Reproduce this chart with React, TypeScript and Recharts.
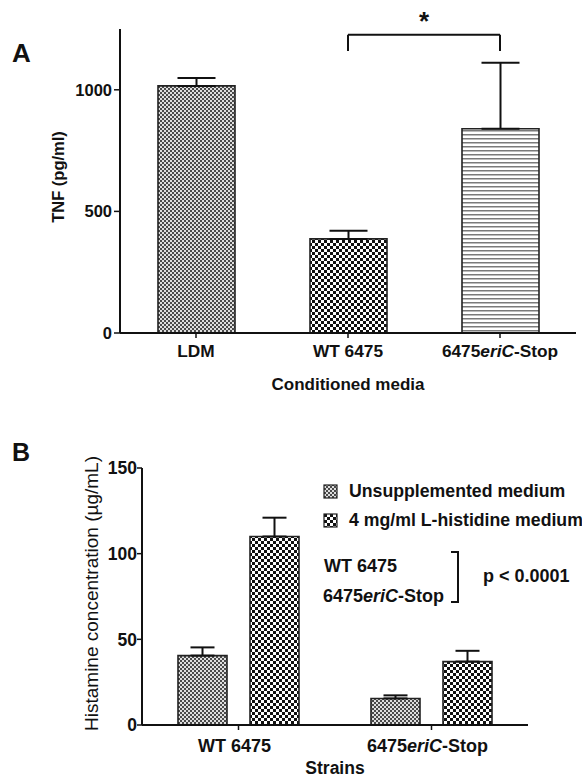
import React from 'react';
import { BarChart, Bar, XAxis, YAxis, ErrorBar, ReferenceLine, Cell } from 'recharts';

// panel A: TNF by conditioned media
const mediaCategories = ['LDM', 'WT 6475', '6475eriC-Stop'];
const tnfValues = [1016, 387, 840];
const tnfErrors = [33, 33, 271];
const tnfTicks = [0, 500, 1000];

// panel B: histamine by strain
const strainCategories = ['WT 6475', '6475eriC-Stop'];
const unsuppValues = [40.5, 15.5];
const unsuppErrors = [4.8, 1.8];
const histValues = [110, 37];
const histErrors = [11, 6.3];
const histamineTicks = [0, 50, 100, 150];
const histamineSeries = [
  { key: 'unsupp', name: 'Unsupplemented medium', fill: 'url(#fineGray)' },
  { key: 'hist', name: '4 mg/ml L-histidine medium', fill: 'url(#coarseCheck)' },
];

const FONT = '"Liberation Sans", Arial, Helvetica, sans-serif';
const mediaFills = ['url(#fineGray)', 'url(#coarseCheck)', 'url(#hLines)'];

const tnfData = mediaCategories.map((name, i) => ({
  name,
  tnf: tnfValues[i],
  tnfErr: [0, tnfErrors[i]],
}));

const histamineData = strainCategories.map((name, i) => ({
  name,
  unsupp: unsuppValues[i],
  unsuppErr: [0, unsuppErrors[i]],
  hist: histValues[i],
  histErr: [0, histErrors[i]],
}));

// "6475eriC-Stop" -> gene name in italics
const StrainName = ({ text }: { text: string }) => {
  const m = text.match(/^(\d+)(eriC)(.*)$/);
  if (!m) return <>{text}</>;
  return (
    <>
      <tspan>{m[1]}</tspan>
      <tspan fontStyle="italic">{m[2]}</tspan>
      <tspan>{m[3]}</tspan>
    </>
  );
};

const makeTick = (fontSize: number, drop: number, shift = 0) => (props: any) => {
  const { x, y, payload } = props;
  return (
    <text x={x + shift} y={y + drop} textAnchor="middle" fontFamily={FONT} fontWeight="bold" fontSize={fontSize} fill="#111">
      <StrainName text={String(payload.value)} />
    </text>
  );
};

const makeXTitle = (value: string, fontSize: number, drop: number) => (props: any) => {
  const { viewBox } = props;
  return (
    <text
      x={viewBox.x + viewBox.width / 2}
      y={viewBox.y + drop}
      textAnchor="middle"
      fontFamily={FONT}
      fontWeight="bold"
      fontSize={fontSize}
      fill="#111"
    >
      {value}
    </text>
  );
};

const makeYTitle = (value: string, fontSize: number, cx: number, shift: number, weight: string) => (props: any) => {
  const { viewBox } = props;
  const cy = viewBox.y + viewBox.height / 2 + shift;
  return (
    <text
      x={cx}
      y={cy}
      transform={`rotate(-90, ${cx}, ${cy})`}
      textAnchor="middle"
      dominantBaseline="central"
      fontFamily={FONT}
      fontWeight={weight}
      fontSize={fontSize}
      fill="#111"
    >
      {value}
    </text>
  );
};

const Star = (props: any) => {
  const { viewBox } = props;
  return (
    <text x={viewBox.x + viewBox.width / 2} y={viewBox.y - 5} textAnchor="middle" fontFamily={FONT} fontWeight="bold" fontSize={26} fill="#111">
      *
    </text>
  );
};

// legend + significance note of panel B, drawn beside the chart
const HistamineLegend = () => (
  <svg width={264} height={130} style={{ position: 'absolute', left: 318, top: 478, overflow: 'hidden' }}>
    {histamineSeries.map((s, i) => (
      <g key={s.key}>
        <rect x={6} y={7 + i * 29} width={13} height={13} fill={s.fill} stroke="#222" strokeWidth={1.2} />
        <text x={31} y={19 + i * 29} fontFamily={FONT} fontWeight="bold" fontSize={17.7} fill="#111">
          {s.name}
        </text>
      </g>
    ))}
    <text x={6} y={94} fontFamily={FONT} fontWeight="bold" fontSize={18} fill="#111">
      {strainCategories[0]}
    </text>
    <text x={5} y={124} fontFamily={FONT} fontWeight="bold" fontSize={18} fill="#111">
      <StrainName text={strainCategories[1]} />
    </text>
    <path d="M133 74 H140 V124 H133" fill="none" stroke="#111" strokeWidth={2} />
    <text x={165} y={104} fontFamily={FONT} fontWeight="bold" fontSize={18} fill="#111">
      p &lt; 0.0001
    </text>
  </svg>
);

const axisLine = { stroke: '#111', strokeWidth: 2 };
const tickLine = { stroke: '#111', strokeWidth: 1.5 };
const yTick = { fontFamily: FONT, fontWeight: 'bold', fill: '#111' };

export default function App() {
  return (
    <div style={{ position: 'absolute', left: 0, top: 0, width: 582, height: 777, background: '#fff', fontFamily: FONT }}>
      <svg width={0} height={0} style={{ position: 'absolute' }}>
        <defs>
          <pattern id="fineGray" width={4} height={4} patternUnits="userSpaceOnUse">
            <rect width={4} height={4} fill="#dedede" />
            <rect width={2} height={2} fill="#4a4a4a" />
            <rect x={2} y={2} width={2} height={2} fill="#4a4a4a" />
          </pattern>
          <pattern id="coarseCheck" width={6} height={6} patternUnits="userSpaceOnUse">
            <rect width={6} height={6} fill="#ffffff" />
            <rect width={3} height={3} fill="#111" />
            <rect x={3} y={3} width={3} height={3} fill="#111" />
          </pattern>
          <pattern id="hLines" width={4} height={4} patternUnits="userSpaceOnUse">
            <rect width={4} height={4} fill="#ffffff" />
            <rect y={2} width={4} height={1.5} fill="#7a7a7a" />
          </pattern>
        </defs>
      </svg>

      <div style={{ position: 'absolute', left: 12, top: 40, fontSize: 26, fontWeight: 'bold', lineHeight: '26px', color: '#111' }}>A</div>
      <div style={{ position: 'absolute', left: 12, top: 440, fontSize: 25, fontWeight: 'bold', lineHeight: '25px', color: '#111' }}>B</div>

      <div style={{ position: 'absolute', left: 0, top: 0 }}>
        <BarChart width={582} height={400} data={tnfData} margin={{ top: 29, right: 6, bottom: 0, left: 0 }} barSize={77}>
          <XAxis
            dataKey="name"
            height={67}
            axisLine={axisLine}
            tickLine={tickLine}
            tickSize={5}
            tickMargin={2}
            tick={makeTick(17.3, 17)}
            label={{ content: makeXTitle('Conditioned media', 17, 57) }}
          />
          <YAxis
            width={120}
            domain={[0, 1250]}
            ticks={tnfTicks}
            axisLine={axisLine}
            tickLine={tickLine}
            tickSize={6}
            tickMargin={2}
            tick={{ ...yTick, fontSize: 16.5 }}
            label={{ content: makeYTitle('TNF (pg/ml)', 16.5, 58, -4, 'bold') }}
          />
          <Bar dataKey="tnf" stroke="#222" strokeWidth={1.6} isAnimationActive={false}>
            {tnfData.map((d, i) => (
              <Cell key={d.name} fill={mediaFills[i]} />
            ))}
            <ErrorBar dataKey="tnfErr" width={19} stroke="#111" strokeWidth={2} direction="y" />
          </Bar>
          <ReferenceLine
            segment={[{ x: mediaCategories[1], y: 1226 }, { x: mediaCategories[2], y: 1226 }]}
            stroke="#111"
            strokeWidth={2}
            ifOverflow="visible"
            label={{ content: Star }}
          />
          <ReferenceLine
            segment={[{ x: mediaCategories[1], y: 1226 }, { x: mediaCategories[1], y: 1160 }]}
            stroke="#111"
            strokeWidth={2}
            ifOverflow="visible"
          />
          <ReferenceLine
            segment={[{ x: mediaCategories[2], y: 1226 }, { x: mediaCategories[2], y: 1160 }]}
            stroke="#111"
            strokeWidth={2}
            ifOverflow="visible"
          />
        </BarChart>
      </div>

      <div style={{ position: 'absolute', left: 0, top: 400 }}>
        <BarChart
          width={582}
          height={377}
          data={histamineData}
          margin={{ top: 68, right: 54, bottom: 0, left: 0 }}
          barSize={49}
          barGap={23}
        >
          <XAxis
            dataKey="name"
            height={52}
            axisLine={axisLine}
            tickLine={tickLine}
            tickSize={5}
            tickMargin={2}
            tick={makeTick(18, 20, -4)}
            label={{ content: makeXTitle('Strains', 17.5, 49) }}
          />
          <YAxis
            width={142}
            domain={[0, 150]}
            ticks={histamineTicks}
            axisLine={axisLine}
            tickLine={tickLine}
            tickSize={5}
            tickMargin={0}
            tick={{ ...yTick, fontSize: 17.5 }}
            label={{ content: makeYTitle('Histamine concentration (µg/mL)', 19, 91, -3, 'normal') }}
          />
          {histamineSeries.map((s) => (
            <Bar key={s.key} dataKey={s.key} name={s.name} fill={s.fill} stroke="#222" strokeWidth={1.6} isAnimationActive={false}>
              <ErrorBar dataKey={`${s.key}Err`} width={12} stroke="#111" strokeWidth={2} direction="y" />
            </Bar>
          ))}
        </BarChart>
      </div>

      <HistamineLegend />
    </div>
  );
}
